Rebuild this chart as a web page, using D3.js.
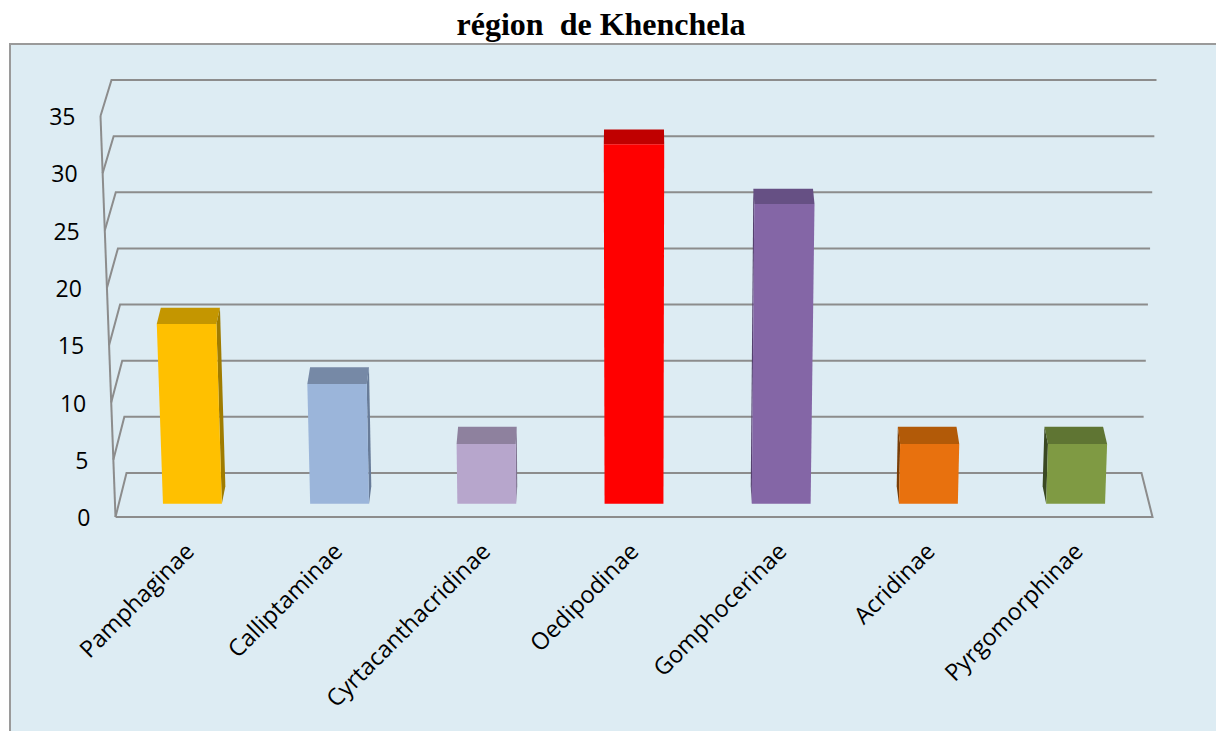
<!DOCTYPE html>
<html>
<head>
<meta charset="utf-8">
<script src="https://cdn.jsdelivr.net/npm/d3@7/dist/d3.min.js"></script>
<style>
  body { margin: 0; background: #fff; }
  svg { display: block; }
</style>
</head>
<body>
<div id="chart"></div>
<script>
// data
var categories = ["Pamphaginae", "Calliptaminae", "Cyrtacanthacridinae", "Oedipodinae", "Gomphocerinae", "Acridinae", "Pyrgomorphinae"];
var values = [15.79, 10.53, 5.26, 31.58, 26.32, 5.26, 5.26];
var yTicks = [0, 5, 10, 15, 20, 25, 30, 35];
var titleText = "région  de Khenchela";

// colours: front face, top face, side face
var frontColors = ["#FFC000", "#9BB5DA", "#B7A6CC", "#FF0000", "#8466A6", "#E8710E", "#7F9A43"];
var topColors = ["#C49600", "#7689A6", "#8E819E", "#C00000", "#665084", "#B25A08", "#5F7533"];
var sideColors = ["#A07C00", "#687C99", "#7F7390", "#990000", "#54406E", "#7A3D05", "#3A4822"];

var W = 1216, H = 731;
var svg = d3.select("#chart").append("svg")
  .attr("width", W)
  .attr("height", H);

// plot area background
svg.append("rect")
  .attr("x", 10).attr("y", 44)
  .attr("width", W + 10).attr("height", H)
  .attr("fill", "#DDECF3")
  .attr("stroke", "#9A9A9A")
  .attr("stroke-width", 2);

// title
svg.append("text")
  .attr("x", 601).attr("y", 35)
  .attr("text-anchor", "middle")
  .attr("font-family", "'Liberation Serif', 'DejaVu Serif', serif")
  .attr("font-weight", "bold")
  .attr("font-size", 32)
  .style("white-space", "pre")
  .text(titleText);

// 3d-ish projection: front plane (w=0) and back wall (w=1)
var cx = 634;
var yFront = d3.scaleLinear().domain([0, 35]).range([517, 116]);
var yBack = d3.scaleLinear().domain([0, 35]).range([473, 80]);
var halfFront = d3.scaleLinear().domain([0, 35]).range([518.5, 533.5]);
var halfBack = d3.scaleLinear().domain([0, 35]).range([507.5, 522.5]);

function proj(u, v, w) {
  var y = d3.interpolateNumber(yFront(v), yBack(v))(w);
  var half = d3.interpolateNumber(halfFront(v), halfBack(v))(w);
  return [cx + (2 * u - 1) * half, y];
}

var xBand = d3.scaleBand().domain(categories).range([0, 1])
  .paddingInner(0.6).paddingOuter(0.3);

var line = d3.line();

// gridlines (left wall diagonal + back wall)
var grid = svg.append("g")
  .attr("fill", "none")
  .attr("stroke", "#8C8C8C")
  .attr("stroke-width", 2)
  .attr("stroke-linejoin", "miter");

yTicks.forEach(function(t) {
  var pts = [proj(0, t, 0), proj(0, t, 1), proj(1, t, 1)];
  if (t === 0) {
    pts.push(proj(1, 0, 0));
    pts.push(proj(0, 0, 0));
  }
  grid.append("path").attr("d", line(pts));
});
// front vertical axis
grid.append("path").attr("d", line([proj(0, 0, 0), proj(0, 35, 0)]));

// y tick labels
svg.append("g").selectAll("text")
  .data(yTicks)
  .enter().append("text")
    .attr("x", function(d) { return proj(0, d, 0)[0] - 25; })
    .attr("y", function(d) { return proj(0, d, 0)[1] + 3; })
    .attr("text-anchor", "end")
    .attr("dominant-baseline", "middle")
    .attr("font-family", "'Open Sans', sans-serif")
    .attr("font-size", 23)
    .attr("fill", "#000")
    .text(function(d) { return d; });

// bars
var w0 = 0.3, w1 = 0.7;
var bars = svg.append("g").selectAll("g")
  .data(categories)
  .enter().append("g");

bars.each(function(c, i) {
  var g = d3.select(this);
  var u0 = xBand(c), u1 = xBand(c) + xBand.bandwidth();
  var v = values[i];
  var uc = (u0 + u1) / 2;
  // the inner side face is the one that can be seen
  var us = uc < 0.5 ? u1 : u0;
  if (Math.abs(uc - 0.5) > 0.01) {
    g.append("path")
      .attr("d", line([proj(us, 0, w0), proj(us, 0, w1), proj(us, v, w1), proj(us, v, w0)]) + "Z")
      .attr("fill", sideColors[i]);
  }
  g.append("path")
    .attr("d", line([proj(u0, v, w0), proj(u1, v, w0), proj(u1, v, w1), proj(u0, v, w1)]) + "Z")
    .attr("fill", topColors[i]);
  g.append("path")
    .attr("d", line([proj(u0, 0, w0), proj(u1, 0, w0), proj(u1, v, w0), proj(u0, v, w0)]) + "Z")
    .attr("fill", frontColors[i]);
});

// category labels
svg.append("g").selectAll("text")
  .data(categories)
  .enter().append("text")
    .attr("transform", function(d) {
      var p = proj(xBand(d) + xBand.bandwidth() / 2, 0, 0);
      return "translate(" + (p[0] + 6) + ",553) rotate(-45)";
    })
    .attr("text-anchor", "end")
    .attr("font-family", "'Open Sans', sans-serif")
    .attr("font-size", 23.5)
    .attr("fill", "#000")
    .text(function(d) { return d; });
</script>
</body>
</html>
